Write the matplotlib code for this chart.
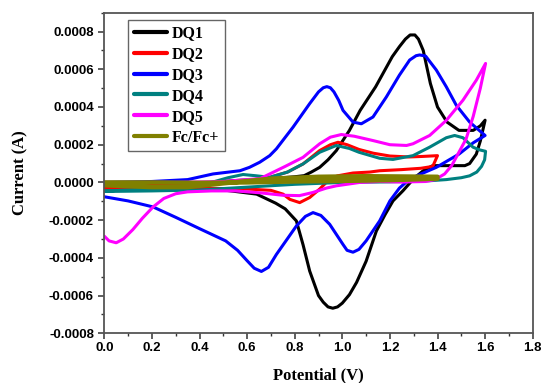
import numpy as np
import matplotlib
matplotlib.use("Agg")
import matplotlib.pyplot as plt
from matplotlib.ticker import FixedLocator, MultipleLocator

# ---------------- data (current in units of 1e-4 A) ----------------
dq1_v = [0.00, 0.20, 0.40, 0.55, 0.70, 0.80, 0.84, 0.87, 0.905, 0.94, 0.975, 1.03, 1.075, 1.14,
         1.21, 1.24, 1.265, 1.285, 1.305, 1.32, 1.34, 1.37, 1.40, 1.44, 1.49, 1.55, 1.58, 1.60,
         1.58, 1.563, 1.535, 1.515, 1.45, 1.38, 1.34, 1.30, 1.255, 1.213, 1.18, 1.143, 1.10,
         1.06, 1.03, 1.00, 0.98, 0.96, 0.94, 0.92, 0.90, 0.863, 0.835, 0.807, 0.76, 0.72,
         0.64, 0.50, 0.30, 0.00]
dq1_i = [-0.2, -0.15, -0.05, 0.1, 0.2, 0.3, 0.36, 0.55, 0.8, 1.2, 1.69, 2.76, 3.82, 5.07,
         6.67, 7.2, 7.6, 7.82, 7.82, 7.6, 7.0, 5.25, 4.0, 3.2, 2.76, 2.76, 3.0, 3.3,
         2.2, 1.5, 1.0, 0.89, 0.89, 0.89, 0.62, 0.2, -0.44, -0.98, -1.7, -2.58, -4.18,
         -5.3, -5.95, -6.4, -6.6, -6.67, -6.6, -6.35, -6.0, -4.7, -3.3, -2.04, -1.4, -1.1,
         -0.62, -0.4, -0.35, -0.3]

dq2_v = [0.00, 0.30, 0.50, 0.60, 0.695, 0.77, 0.835, 0.905, 0.95, 0.982, 1.02, 1.07, 1.13,
         1.20, 1.28, 1.34, 1.40, 1.38, 1.33, 1.25, 1.157, 1.115, 1.045, 0.98, 0.947, 0.905,
         0.863, 0.821, 0.78, 0.751, 0.70, 0.60, 0.40, 0.20, 0.00]
dq2_i = [-0.2, -0.12, 0.0, 0.1, 0.27, 0.55, 0.98, 1.69, 2.0, 2.13, 2.0, 1.75, 1.55,
         1.4, 1.35, 1.38, 1.42, 0.85, 0.75, 0.68, 0.62, 0.55, 0.5, 0.35, 0.18, -0.35,
         -0.8, -1.07, -0.9, -0.62, -0.42, -0.35, -0.3, -0.28, -0.27]

dq3_v = [0.00, 0.20, 0.35, 0.457, 0.51, 0.57, 0.61, 0.653, 0.695, 0.723, 0.793, 0.863, 0.90,
         0.92, 0.935, 0.95, 0.965, 0.985, 1.003, 1.045, 1.08, 1.129, 1.185, 1.24, 1.283, 1.31,
         1.325, 1.35, 1.395, 1.437, 1.479, 1.535, 1.60, 1.55, 1.49, 1.395, 1.34, 1.283, 1.24,
         1.20, 1.157, 1.10, 1.07, 1.045, 1.02, 1.003, 0.947, 0.91, 0.877, 0.845, 0.807, 0.723,
         0.69, 0.66, 0.63, 0.60, 0.56, 0.51, 0.40, 0.30, 0.205, 0.10, 0.00]
dq3_i = [0.0, 0.05, 0.15, 0.45, 0.53, 0.62, 0.8, 1.07, 1.42, 1.78, 2.93, 4.18, 4.8,
         5.02, 5.08, 5.02, 4.8, 4.35, 3.82, 3.2, 3.11, 3.47, 4.53, 5.69, 6.49, 6.72,
         6.76, 6.7, 5.96, 5.07, 4.09, 3.2, 2.49, 2.1, 1.5, 0.8, 0.5, 0.18, -0.3,
         -0.98, -2.04, -3.1, -3.55, -3.7, -3.6, -3.29, -2.22, -1.75, -1.6, -1.8, -2.31, -3.82,
         -4.5, -4.72, -4.55, -4.15, -3.6, -3.1, -2.45, -1.85, -1.3, -0.98, -0.76]

dq4_v = [0.00, 0.30, 0.45, 0.52, 0.583, 0.64, 0.695, 0.77, 0.835, 0.905, 0.975, 1.03, 1.07,
         1.157, 1.213, 1.297, 1.367, 1.437, 1.472, 1.507, 1.549, 1.576, 1.602, 1.598, 1.585,
         1.565, 1.535, 1.50, 1.437, 1.367, 1.20, 1.00, 0.80, 0.60, 0.40, 0.20, 0.00]
dq4_i = [-0.45, -0.3, 0.0, 0.25, 0.42, 0.35, 0.27, 0.55, 0.98, 1.6, 1.96, 1.8, 1.6,
         1.28, 1.22, 1.42, 1.87, 2.37, 2.49, 2.37, 1.87, 1.73, 1.65, 1.2, 0.85,
         0.55, 0.35, 0.25, 0.15, 0.09, 0.03, 0.0, -0.1, -0.25, -0.4, -0.45, -0.48]

dq5_v = [0.00, 0.30, 0.50, 0.60, 0.654, 0.695, 0.76, 0.835, 0.905, 0.95, 0.996, 1.05, 1.129,
         1.20, 1.27, 1.297, 1.367, 1.437, 1.507, 1.563, 1.602, 1.58, 1.55, 1.52, 1.49, 1.46,
         1.43, 1.39, 1.35, 1.25, 1.157, 1.073, 0.975, 0.933, 0.877, 0.82, 0.75, 0.654, 0.55,
         0.45, 0.35, 0.30, 0.25, 0.205, 0.16, 0.12, 0.08, 0.05, 0.02, 0.00]
dq5_i = [0.0, 0.0, 0.05, 0.15, 0.2, 0.45, 0.85, 1.33, 2.05, 2.4, 2.54, 2.45, 2.22,
         2.0, 1.96, 2.05, 2.49, 3.29, 4.36, 5.42, 6.31, 5.0, 3.5, 2.3, 1.6, 0.9,
         0.45, 0.15, 0.05, 0.02, 0.05, 0.0, -0.18, -0.3, -0.53, -0.7, -0.68, -0.55, -0.45,
         -0.45, -0.5, -0.6, -0.85, -1.3, -1.9, -2.5, -3.0, -3.2, -3.1, -2.85]

fc_v = [0.00, 0.20, 0.35, 0.50, 0.70, 0.90, 1.10, 1.40, 1.40, 1.20, 1.00, 0.80, 0.60, 0.40,
        0.20, 0.00]
fc_i = [-0.15, -0.25, -0.25, -0.05, 0.2, 0.3, 0.33, 0.3, 0.2, 0.12, 0.08, 0.05, 0.0, -0.02,
        0.0, 0.0]

labels = ["DQ1", "DQ2", "DQ3", "DQ4", "DQ5", "Fc/Fc+"]
colors = ["#000000", "#ff0000", "#0000ff", "#008080", "#ff00ff", "#808000"]

x_ticks = [0.0, 0.2, 0.4, 0.6, 0.8, 1.0, 1.2, 1.4, 1.6, 1.8]
x_tick_labels = ["0.0", "0.2", "0.4", "0.6", "0.8", "1.0", "1.2", "1.4", "1.6", "1.8"]
y_ticks = [-0.0008, -0.0006, -0.0004, -0.0002, 0.0, 0.0002, 0.0004, 0.0006, 0.0008]
y_tick_labels = ["-0.0008", "-0.0006", "-0.0004", "-0.0002", "0.0000",
                 "0.0002", "0.0004", "0.0006", "0.0008"]

SCALE = 1e-4  # currents above are stored in units of 1e-4 A

# ---------------- figure ----------------
fig = plt.figure(figsize=(5.41, 3.83), dpi=100)
ax = fig.add_axes([104.3 / 541, 1 - 333.3 / 383, (532.7 - 104.3) / 541, (333.3 - 12.7) / 383])

series = [(dq1_v, dq1_i), (dq2_v, dq2_i), (dq3_v, dq3_i), (dq4_v, dq4_i), (dq5_v, dq5_i), (fc_v, fc_i)]
for (v, i), lab, c in zip(series, labels, colors):
    lw = 3.2 if lab == "Fc/Fc+" else 2.2
    ax.plot(v, np.array(i) * SCALE, color=c, lw=lw, label=lab,
            solid_joinstyle="round", solid_capstyle="round")

ax.set_xlim(0, 1.8)
ax.set_ylim(-0.0008, 0.0009)
ax.xaxis.set_major_locator(FixedLocator(x_ticks))
ax.set_xticklabels(x_tick_labels)
ax.xaxis.set_minor_locator(MultipleLocator(0.1))
ax.yaxis.set_major_locator(FixedLocator(y_ticks))
ax.set_yticklabels(y_tick_labels)
ax.yaxis.set_minor_locator(MultipleLocator(0.0001))

spine_c = "#555555"
for s in ax.spines.values():
    s.set_color(spine_c)
    s.set_linewidth(1.3)
ax.tick_params(which="both", direction="out", colors="#333333", top=False, right=False)
ax.tick_params(which="major", length=4, width=1.1)
ax.tick_params(which="minor", length=2.5, width=1.0)
ax.tick_params(axis="x", pad=2.5)
ax.tick_params(axis="y", pad=3.5)
for lbl in ax.get_xticklabels() + ax.get_yticklabels():
    lbl.set_fontfamily("Liberation Sans")
    lbl.set_fontweight("bold")
    lbl.set_fontsize(9.5)
    lbl.set_color("black")

fig.text(318.5 / 541, 1 - 379 / 383, "Potential (V)", ha="center", va="baseline",
         fontfamily="Liberation Serif", fontweight="bold", fontsize=12)
fig.text(20 / 541, 1 - 173 / 383, "Current (A)", ha="center", va="center", rotation=90,
         fontfamily="Liberation Serif", fontweight="bold", fontsize=12)

leg = ax.legend(loc="upper left", bbox_to_anchor=((128 - 104.3) / 428.4, (333.3 - 20) / 320.6),
                borderaxespad=0, fancybox=False, framealpha=1, edgecolor="#666666",
                prop={"family": "Liberation Serif", "weight": "bold", "size": 11.5},
                handlelength=2.1, handletextpad=0.3, labelspacing=0.3, borderpad=0.35)
leg.get_frame().set_linewidth(1.0)
for line in leg.get_lines():
    line.set_linewidth(3.0)

fig.savefig("out.png", dpi=100)
